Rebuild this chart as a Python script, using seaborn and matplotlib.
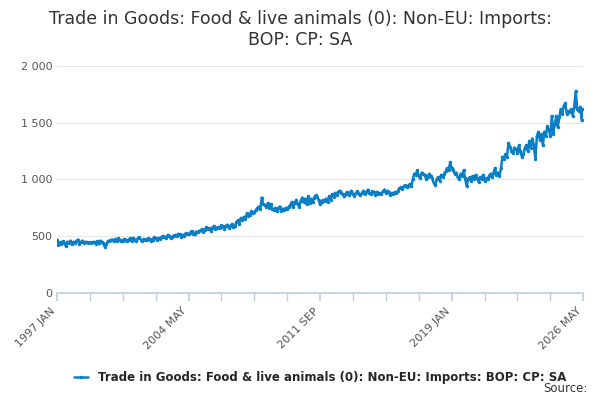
import matplotlib
matplotlib.use("Agg")
import matplotlib.pyplot as plt
import seaborn as sns
import pandas as pd
import numpy as np

y1997 = [470, 420, 445, 430, 455, 440, 410, 450, 440, 460, 430, 450]
y1998 = [440, 455, 470, 430, 445, 460, 440, 450, 445, 440, 445, 440]
y1999 = [445, 450, 430, 455, 440, 460, 450, 440, 405, 430, 455, 460]
y2000 = [465, 470, 455, 475, 460, 480, 470, 460, 455, 475, 470, 455]
y2001 = [470, 480, 460, 485, 470, 455, 480, 490, 470, 460, 475, 465]
y2002 = [470, 480, 475, 455, 470, 490, 480, 470, 485, 475, 495, 500]
y2003 = [490, 485, 510, 500, 480, 495, 505, 510, 500, 520, 515, 495]
y2004 = [510, 505, 525, 520, 515, 530, 545, 520, 515, 540, 535, 545]
y2005 = [550, 560, 540, 555, 580, 565, 570, 545, 575, 590, 560, 575]
y2006 = [580, 570, 595, 585, 560, 590, 600, 575, 590, 605, 580, 585]
y2007 = [620, 640, 610, 660, 645, 670, 650, 700, 680, 690, 720, 700]
y2008 = [710, 730, 745, 760, 735, 840, 780, 770, 760, 790, 750, 780]
y2009 = [740, 730, 750, 720, 745, 760, 720, 740, 730, 750, 735, 760]
y2010 = [770, 800, 760, 790, 820, 780, 760, 810, 840, 800, 830, 780]
y2011 = [850, 790, 830, 800, 840, 860, 845, 820, 780, 800, 820, 810]
y2012 = [830, 800, 850, 820, 870, 845, 880, 860, 890, 900, 880, 870]
y2013 = [850, 870, 890, 860, 880, 900, 870, 855, 880, 895, 875, 860]
y2014 = [880, 900, 870, 890, 910, 880, 870, 895, 885, 860, 890, 875]
y2015 = [880, 870, 895, 910, 880, 900, 890, 860, 880, 870, 890, 880]
y2016 = [900, 920, 930, 915, 940, 950, 930, 945, 960, 940, 1000, 1050]
y2017 = [1040, 1080, 1030, 1010, 1060, 1050, 1040, 1000, 1020, 1050, 1030, 1010]
y2018 = [970, 950, 1000, 1020, 990, 1040, 1020, 1050, 1070, 1100, 1080, 1150]
y2019 = [1100, 1080, 1050, 1060, 1020, 1000, 1050, 1030, 1080, 1010, 940, 1000]
y2020 = [1020, 990, 1030, 1000, 1040, 1010, 980, 1020, 1000, 1040, 990, 1010]
y2021 = [1000, 1030, 1050, 1020, 1060, 1100, 1040, 1060, 1030, 1100, 1200, 1180]
y2022 = [1220, 1200, 1320, 1290, 1250, 1230, 1280, 1270, 1230, 1300, 1250, 1200]
y2023 = [1220, 1280, 1300, 1250, 1340, 1280, 1360, 1300, 1180, 1380, 1420, 1350]
y2024 = [1400, 1300, 1420, 1380, 1470, 1440, 1380, 1560, 1400, 1490, 1560, 1460]
y2025 = [1550, 1620, 1580, 1650, 1670, 1580, 1600, 1590, 1620, 1560, 1640, 1780]
y2026 = [1620, 1600, 1640, 1520, 1620]

values = (y1997 + y1998 + y1999 + y2000 + y2001 + y2002 + y2003 + y2004 + y2005 + y2006 +
          y2007 + y2008 + y2009 + y2010 + y2011 + y2012 + y2013 + y2014 + y2015 + y2016 +
          y2017 + y2018 + y2019 + y2020 + y2021 + y2022 + y2023 + y2024 + y2025 + y2026)
tick_labels = ["1997 JAN", "2004 MAY", "2011 SEP", "2019 JAN", "2026 MAY"]
series_name = "Trade in Goods: Food & live animals (0): Non-EU: Imports: BOP: CP: SA"

df = pd.DataFrame({"i": np.arange(len(values)), "v": values})
sns.set_theme(style="white")
plt.rcParams['font.family'] = ['DejaVu Sans']
fig = plt.figure(figsize=(6, 4), dpi=100)
ax = fig.add_axes([0.095, 0.268, 0.877, 0.567])
sns.lineplot(data=df, x="i", y="v", ax=ax, color="#0a7fc6", linewidth=1.8,
             marker="o", markersize=2.5, markeredgewidth=0, label=series_name)
n = len(values) - 1
ax.set_xlim(0, n)
ax.set_ylim(0, 2000)
ax.set_yticks([0, 500, 1000, 1500, 2000])
ax.set_yticklabels(["0", "500", "1 000", "1 500", "2 000"], fontsize=8, color="#555555")
ax.set_xticks(np.arange(0, n + 1, 22), minor=True)
ax.set_xticks([0, 88, 176, 264, 352])
ax.set_xticklabels(tick_labels, rotation=45, ha="right", fontsize=8, color="#555555")
ax.tick_params(axis="x", which="both", length=6, color="#c0d0e0", bottom=True)
ax.tick_params(axis="y", length=0)
ax.grid(axis="y", color="#e6e6e6", linewidth=0.8)
for s in ["top", "right", "left"]:
    ax.spines[s].set_visible(False)
ax.spines["bottom"].set_color("#c0d0e0")
ax.set_xlabel("")
ax.set_ylabel("")
fig.suptitle("Trade in Goods: Food & live animals (0): Non-EU: Imports:\nBOP: CP: SA",
             fontsize=12.5, color="#333333", y=0.975)
ax.legend(loc="upper center", bbox_to_anchor=(0.5, -0.3), frameon=False, fontsize=8.5,
          prop={"weight": "bold", "size": 8.5}, handlelength=1.2)
fig.text(0.98, 0.02, "Source:", ha="right", fontsize=8.5, color="#333333")
fig.savefig("out.png", dpi=100)
